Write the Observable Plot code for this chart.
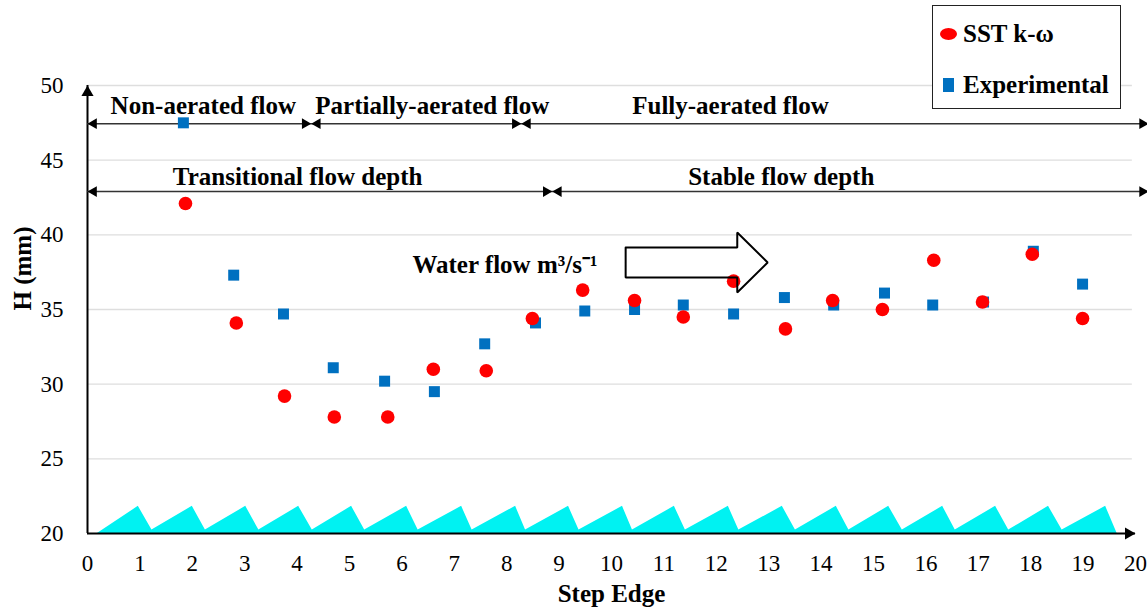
<!DOCTYPE html>
<html>
<head>
<meta charset="utf-8">
<script src="https://cdn.jsdelivr.net/npm/d3@7"></script>
<script src="https://cdn.jsdelivr.net/npm/@observablehq/plot@0.6"></script>
<style>
  body { margin: 0; background: #fff; }
  #wrap { position: relative; width: 1147px; height: 610px; font-family: "Liberation Serif", "Times New Roman", serif; }
  #chart svg, #chart svg text { font-family: "Liberation Serif", "Times New Roman", serif !important; }
  #legend { position: absolute; left: 932px; top: 5px; width: 187px; height: 102px; border: 1.5px solid #222; background: #fff; }
  .item { position: absolute; left: 0; height: 28px; display: flex; align-items: center; font-weight: bold; font-size: 25px; color: #000; white-space: nowrap; }
  .sw { display: inline-block; margin-left: 7px; margin-right: 6px; }
  .circ { width: 17px; height: 12px; border-radius: 50%; background: #ff0000; }
  .sq { width: 11px; height: 14px; background: #0070c0; margin-left: 10px; margin-right: 9px; }
</style>
</head>
<body>
<div id="wrap">
  <div id="chart"></div>
  <div id="legend"></div>
</div>
<script>
// ---- data ----
const seriesNames = ["SST k-\u03c9", "Experimental"];
const seriesColors = ["#ff0000", "#0070c0"];

const xSST = [1.87, 2.84, 3.76, 4.71, 5.73, 6.60, 7.61, 8.49, 9.45, 10.44, 11.37, 12.33, 13.32, 14.22, 15.17, 16.15, 17.08, 18.03, 18.99];
const hSST = [42.1, 34.1, 29.2, 27.8, 27.8, 31.0, 30.9, 34.4, 36.3, 35.6, 34.5, 36.9, 33.7, 35.6, 35.0, 38.3, 35.5, 38.7, 34.4];

const xExp = [1.83, 2.79, 3.74, 4.69, 5.67, 6.62, 7.58, 8.55, 9.49, 10.44, 11.37, 12.33, 13.30, 14.24, 15.21, 16.13, 17.10, 18.05, 18.99];
const hExp = [47.5, 37.3, 34.7, 31.1, 30.2, 29.5, 32.7, 34.1, 34.9, 35.0, 35.3, 34.7, 35.8, 35.3, 36.1, 35.3, 35.5, 38.9, 36.7];

const xTicks = [0, 1, 2, 3, 4, 5, 6, 7, 8, 9, 10, 11, 12, 13, 14, 15, 16, 17, 18, 19, 20];
const yTicks = [20, 25, 30, 35, 40, 45, 50];
const gridLevels = [25, 30, 35, 40, 45, 50];

// stepped spillway teeth (decoration along the bottom)
const toothStart = 0.19;
const toothPeaks   = [0.97, 2.00, 3.02, 4.03, 5.04, 6.09, 7.14, 8.17, 9.18, 10.21, 11.20, 12.23, 13.26, 14.29, 15.29, 16.32, 17.33, 18.34, 19.43];
const toothValleys = [1.23, 2.25, 3.27, 4.29, 5.29, 6.31, 7.34, 8.36, 9.38, 10.40, 11.41, 12.43, 13.51, 14.53, 15.55, 16.56, 17.58, 18.60, 19.65];
const toothTop = 21.82;
const toothLow = 20.23;

// regime annotations
const regimeBounds = [0, 4.27, 8.28, 20.25];
const regimeLabels = ["Non-aerated flow", "Partially-aerated flow", "Fully-aerated flow"];
const regimeLabelX = [2.21, 6.58, 12.27];
const regimeLineY = 47.44;
const regimeLabelY = 48.65;

const depthBounds = [0, 8.87, 20.25];
const depthLabels = ["Transitional flow depth", "Stable flow depth"];
const depthLabelX = [4.01, 13.24];
const depthLineY = 42.9;
const depthLabelY = 43.89;

// hollow "water flow" arrow
const flowArrowX = [10.27, 12.40, 12.40, 12.98, 12.40, 12.40, 10.27, 10.27];
const flowArrowY = [39.16, 39.16, 40.16, 38.15, 36.14, 37.15, 37.15, 39.16];
const flowText = "Water flow m\u00b3/s\u207b\u00b9";
const flowTextX = 6.20;
const flowTextY = 37.99;

// ---- derived tables ----
const sst = xSST.map((x, i) => ({x, y: hSST[i]}));
const exp = xExp.map((x, i) => ({x, y: hExp[i]}));

const teeth = [{x: toothStart, y: 20}];
toothPeaks.forEach((p, i) => {
  teeth.push({x: p, y: toothTop});
  teeth.push({x: toothValleys[i], y: i === toothPeaks.length - 1 ? 20 : toothLow});
});

function segs(bounds, y) {
  const out = [];
  for (let i = 0; i < bounds.length - 1; i++) out.push({x1: bounds[i], x2: bounds[i + 1], y});
  return out;
}
const arrowSegs = [...segs(regimeBounds, regimeLineY), ...segs(depthBounds, depthLineY)];
const leftHeads = arrowSegs.map(s => ({x: s.x1, y: s.y}));
const rightHeads = arrowSegs.map(s => ({x: s.x2, y: s.y}));

const labels = [
  ...regimeLabels.map((t, i) => ({t, x: regimeLabelX[i], y: regimeLabelY})),
  ...depthLabels.map((t, i) => ({t, x: depthLabelX[i], y: depthLabelY}))
];

const flowArrow = flowArrowX.map((x, i) => ({x, y: flowArrowY[i]}));

const xMax = xTicks[xTicks.length - 1], xMin = xTicks[0];
const yMax = yTicks[yTicks.length - 1], yMin = yTicks[0];
const serif = "Liberation Serif";

const chart = Plot.plot({
  width: 1147,
  height: 610,
  marginLeft: 87,
  marginRight: 12,
  marginTop: 85,
  marginBottom: 77,
  style: {fontFamily: serif, fontSize: "23px", background: "white", overflow: "visible", color: "#000"},
  x: {domain: [xMin, xMax]},
  y: {domain: [yMin, yMax]},
  marks: [
    Plot.ruleY(gridLevels, {stroke: "#dedede", strokeWidth: 1.3, x1: () => xMin, x2: () => 19.94}),
    Plot.areaY(teeth, {x: "x", y1: () => 20, y2: "y", fill: "#00f2f2", curve: "linear"}),
    Plot.axisX({ticks: xTicks, tickSize: 0, tickPadding: 21, label: null, tickFormat: d => String(d), fontFamily: serif, fontSize: 23, fontVariant: "normal", fill: "#000"}),
    Plot.axisY({ticks: yTicks, tickSize: 0, tickPadding: 24, label: null, tickFormat: d => String(d), fontFamily: serif, fontSize: 23, fontVariant: "normal", fill: "#000"}),
    Plot.ruleY([yMin], {stroke: "#000", strokeWidth: 2}),
    Plot.ruleX([xMin], {stroke: "#000", strokeWidth: 2}),
    Plot.dot([{x: xMax, y: yMin}], {x: "x", y: "y", symbol: "triangle", r: 4.5, rotate: 90, dx: -7, fill: "#000", stroke: "none"}),
    Plot.dot([{x: xMin, y: yMax}], {x: "x", y: "y", symbol: "triangle", r: 4.5, rotate: 0, dy: 7, fill: "#000", stroke: "none"}),
    // annotation double arrows
    Plot.ruleY(arrowSegs, {x1: "x1", x2: "x2", y: "y", stroke: "#333", strokeWidth: 1.6}),
    Plot.dot(leftHeads, {x: "x", y: "y", symbol: "triangle", r: 4, rotate: -90, dx: 6.2, fill: "#000", stroke: "none"}),
    Plot.dot(rightHeads, {x: "x", y: "y", symbol: "triangle", r: 4, rotate: 90, dx: -6.2, fill: "#000", stroke: "none"}),
    Plot.text(labels, {x: "x", y: "y", text: "t", fontFamily: serif, fontWeight: "bold", fontSize: 25, fill: "#000"}),
    // water flow arrow (fill under points)
    Plot.line(flowArrow, {x: "x", y: "y", fill: "white", stroke: "none", curve: "linear"}),
    Plot.text([flowText], {x: () => flowTextX, y: () => flowTextY, text: d => d, textAnchor: "start", fontFamily: serif, fontWeight: "bold", fontSize: 25, fill: "#000"}),
    // data
    Plot.dot(exp, {x: "x", y: "y", symbol: "square", r: 6.2, fill: seriesColors[1], stroke: "none"}),
    Plot.dot(sst, {x: "x", y: "y", symbol: "circle", r: 6.8, fill: seriesColors[0], stroke: "none"}),
    // arrow outline on top
    Plot.line(flowArrow, {x: "x", y: "y", stroke: "#000", strokeWidth: 2, fill: "none", curve: "linear", strokeLinejoin: "miter"}),
    // axis titles
    Plot.text(["Step Edge"], {frameAnchor: "bottom", lineAnchor: "middle", dy: 60, text: d => d, fontFamily: serif, fontWeight: "bold", fontSize: 25, fill: "#000"}),
    Plot.text(["H (mm)"], {frameAnchor: "left", lineAnchor: "middle", dx: -65, dy: 1, rotate: -90, text: d => d, fontFamily: serif, fontWeight: "bold", fontSize: 25, fill: "#000"})
  ]
});
document.getElementById("chart").appendChild(chart);

// legend (HTML overlay)
const legend = document.getElementById("legend");
const legendTops = [14, 65];
seriesNames.forEach((name, i) => {
  const item = document.createElement("div");
  item.className = "item";
  item.style.top = legendTops[i] + "px";
  const sw = document.createElement("span");
  sw.className = "sw " + (i === 0 ? "circ" : "sq");
  sw.style.background = seriesColors[i];
  item.appendChild(sw);
  item.appendChild(document.createTextNode(name));
  legend.appendChild(item);
});
</script>
</body>
</html>
